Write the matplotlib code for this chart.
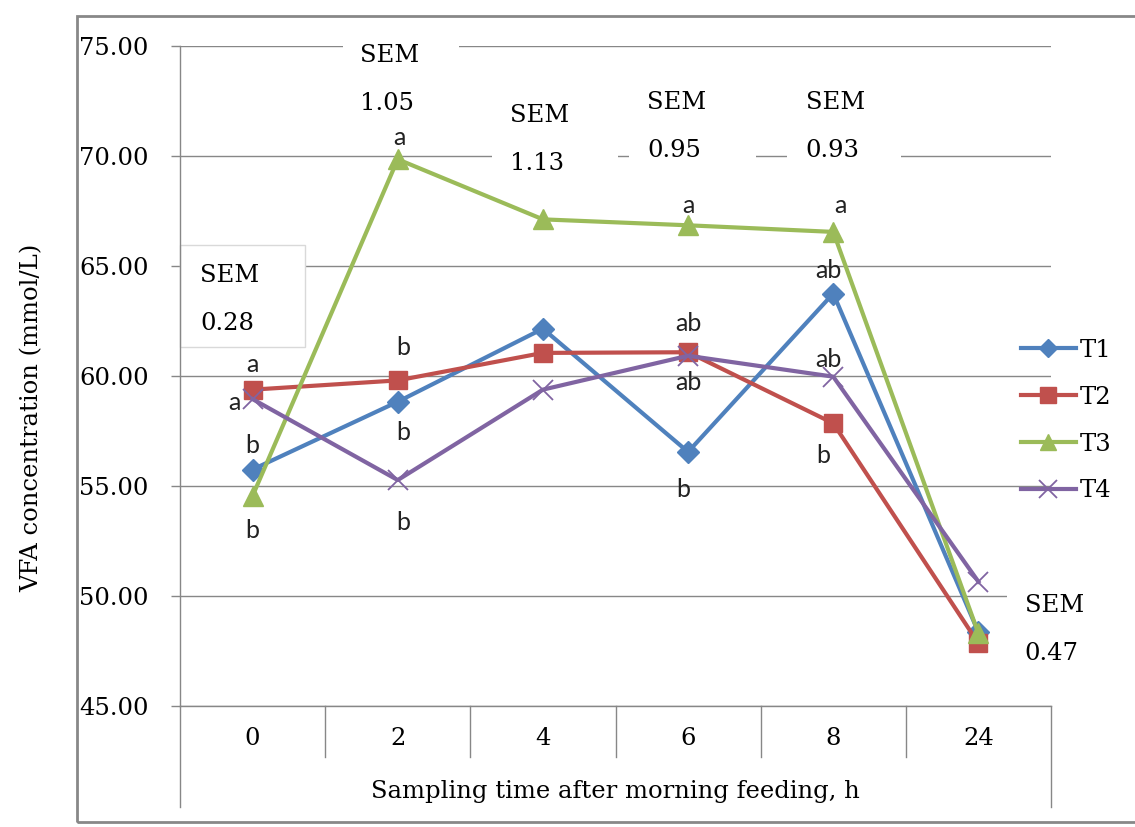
import matplotlib.pyplot as plt
import matplotlib.transforms as mtransforms
from matplotlib.patches import Rectangle
from matplotlib.lines import Line2D

# data
times = ['0', '2', '4', '6', '8', '24']
t1 = [55.75, 58.83, 62.15, 56.55, 63.75, 48.35]
t2 = [59.38, 59.80, 61.05, 61.08, 57.85, 47.85]
t3 = [54.55, 69.85, 67.12, 66.85, 66.55, 48.30]
t4 = [58.95, 55.27, 59.38, 60.92, 59.97, 50.65]

# significance letters per series ('' = no letter)
t1_letters = ['b', 'b', '', 'b', 'ab', '']
t2_letters = ['a', 'b', '', 'ab', 'b', '']
t3_letters = ['b', 'a', '', 'a', 'a', '']
t4_letters = ['a', 'b', '', 'ab', 'ab', '']

sem_values = ['0.28', '1.05', '1.13', '0.95', '0.93', '0.47']

series = [
    ('T1', t1, t1_letters, '#4F81BD', 'D', 11),
    ('T2', t2, t2_letters, '#C0504D', 's', 13),
    ('T3', t3, t3_letters, '#9BBB59', '^', 14),
    ('T4', t4, t4_letters, '#8064A2', 'x', 15),
]

# letter offsets in pixels (dx, dy), per series and time point
letter_offsets = [
    [(0, 24), (5, -31), None, (-5, -38), (-5, 23), None],
    [(0, 25), (5, 33), None, (0, 29), (-10, -32), None],
    [(0, -35), (2, 22), None, (0, 20), (7, 26), None],
    [(-18, -3), (5, -42), None, (0, -27), (-5, 17), None],
]

# SEM boxes: text left x, SEM line y, box (x0, x1, y0, y1), in data units
sem_layout = [
    (-0.36, 64.55, (-0.5, 0.36, 61.32, 65.95), True),
    (0.74, 74.59, (0.62, 1.42, 71.4, 75.9), False),
    (1.77, 71.86, (1.65, 2.52, 68.45, 73.2), False),
    (2.72, 72.41, (2.59, 3.47, 69.2, 73.7), False),
    (3.81, 72.41, (3.68, 4.47, 69.2, 73.7), False),
    (5.32, 49.59, (5.2, 6.0, 45.95, 50.95), False),
]

SERIF = 'DejaVu Serif'
SANS = 'Lato'
grid_c = '#878787'

fig = plt.figure(figsize=(11.35, 8.27), dpi=100)
W, H = 1135, 827
ax = fig.add_axes([180 / W, 1 - 706 / H, 871 / W, 660 / H])

x = list(range(len(times)))
ax.set_xlim(-0.5, len(times) - 0.5)
ax.set_ylim(45, 75)
ax.set_yticks([45, 50, 55, 60, 65, 70, 75])
ax.set_yticklabels(['%.2f' % v for v in [45, 50, 55, 60, 65, 70, 75]],
                   fontfamily=SERIF, fontsize=17.5)
ax.set_xticks(x)
ax.set_xticklabels(times, fontfamily=SERIF, fontsize=17.5)
ax.tick_params(axis='x', length=0, pad=15)
ax.tick_params(axis='y', length=6.5, width=1, color=grid_c, pad=16)
ax.yaxis.grid(True, color=grid_c, lw=1)
ax.set_axisbelow(True)
for s in ['top', 'right']:
    ax.spines[s].set_visible(False)
for s in ['left', 'bottom']:
    ax.spines[s].set_color(grid_c)
    ax.spines[s].set_linewidth(1)

# category table under the axis
trans = mtransforms.blended_transform_factory(ax.transData, ax.transAxes)
for xi in x[:-1]:
    ax.add_line(Line2D([xi + 0.5, xi + 0.5], [0, -51 / 660], transform=trans,
                       color=grid_c, lw=1, clip_on=False))
for xe in [-0.5, len(times) - 0.5]:
    ax.add_line(Line2D([xe, xe], [0, -101 / 660], transform=trans,
                       color=grid_c, lw=1, clip_on=False))

ax.set_xlabel('Sampling time after morning feeding, h', fontfamily=SERIF, fontsize=17.5)
ax.xaxis.set_label_coords(0.5, -74 / 660)
ax.set_ylabel('VFA concentration (mmol/L)', fontfamily=SERIF, fontsize=17.5)
ax.yaxis.set_label_coords(-137 / 871, 0.436)

# SEM annotations
for val, (tx, ty, (bx0, bx1, by0, by1), edge) in zip(sem_values, sem_layout):
    ax.add_patch(Rectangle((bx0, by0), bx1 - bx0, by1 - by0, facecolor='white',
                           edgecolor='#d9d9d9' if edge else 'none', lw=1,
                           zorder=1.5, clip_on=False))
    ax.text(tx, ty, 'SEM', fontfamily=SERIF, fontsize=17.5, va='center', ha='left',
            zorder=1.6, clip_on=False)
    ax.text(tx, ty - 48 / 22, val, fontfamily=SERIF, fontsize=17.5, va='center',
            ha='left', zorder=1.6, clip_on=False)

handles = []
for (name, vals, letters, color, mk, ms), offs in zip(series, letter_offsets):
    if mk == 'x':
        h, = ax.plot(x, vals, color=color, lw=3, marker=mk, ms=ms, mew=1.3,
                     zorder=3, clip_on=False)
    else:
        h, = ax.plot(x, vals, color=color, lw=3, marker=mk, ms=ms, mec=color,
                     zorder=3, clip_on=False)
    handles.append(h)
    for xi, v, lt, off in zip(x, vals, letters, offs):
        if lt and off:
            ax.annotate(lt, (xi, v), xytext=(off[0] * 0.72, off[1] * 0.72),
                        textcoords='offset points', ha='center', va='center',
                        fontfamily=SANS, fontsize=18, color='#222222', zorder=4)

leg = ax.legend(handles, [s[0] for s in series], loc='upper left',
                bbox_to_anchor=(1021 / W, 1 - 339 / H), bbox_transform=fig.transFigure,
                frameon=False, prop={'family': SERIF, 'size': 17.5},
                handlelength=2.25, handletextpad=0.15, labelspacing=0.98,
                borderpad=0, borderaxespad=0, markerscale=0.85)

# outer chart border
fig.add_artist(Rectangle((77 / W, 5 / H), 1.2, 806 / H, transform=fig.transFigure,
                         facecolor='none', edgecolor='#888888', lw=2))

fig.savefig('out.png', dpi=100)
